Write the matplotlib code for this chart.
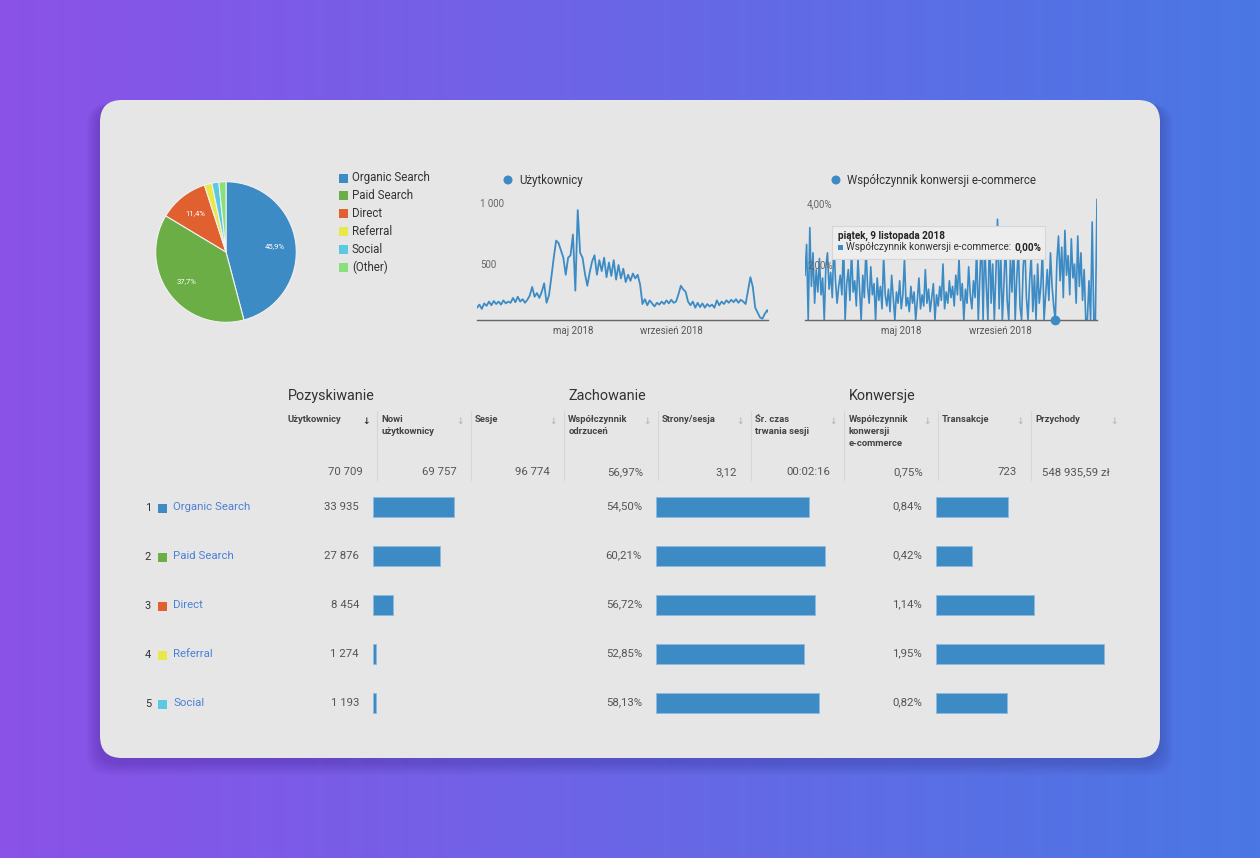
import datetime as dt
import numpy as np
import matplotlib
matplotlib.use("Agg")
import matplotlib.pyplot as plt
import matplotlib.dates as mdates
from matplotlib.colors import LinearSegmentedColormap
from matplotlib.patches import FancyBboxPatch, Rectangle, Circle

W, H = 1260, 858
plt.rcParams['font.family'] = ['Roboto', 'DejaVu Sans']

# pie: channel shares
pie_labels = ['Organic Search', 'Paid Search', 'Direct', 'Referral', 'Social', '(Other)']
pie_values = [33935, 27876, 8454, 1274, 1193, 1200]
pie_colors = ['#3c8bc4', '#6aae45', '#e0612f', '#e9e84a', '#5cc9e2', '#89e07b']

# daily users, sampled every 3 days from 2018-01-01
users_series = [150, 175, 140, 185, 165, 200, 170, 205, 180, 200, 175, 210, 185, 200, 190,
                230, 195, 240, 200, 220, 190, 215, 250, 320, 240, 270, 230, 280, 350, 190,
                250, 400, 560, 700, 680, 620, 560, 420, 560, 580, 750, 290, 950, 600, 560,
                430, 330, 440, 530, 580, 420, 540, 450, 560, 400, 520, 410, 540, 380, 500,
                390, 470, 360, 420, 370, 430, 390, 420, 340, 180, 220, 170, 210, 185, 160,
                190, 175, 200, 180, 210, 185, 215, 190, 200, 260, 330, 300, 280, 200, 170,
                200, 150, 190, 155, 185, 150, 180, 160, 175, 150, 210, 170, 200, 180, 210,
                190, 215, 195, 220, 190, 215, 200, 180, 290, 400, 320, 150, 110, 70, 60,
                100, 130, 95]

# e-commerce conversion rate (%), sampled every 2 days from 2018-01-01
conv_series = [1.6, 2.7, 0.0, 3.3, 1.2, 2.4, 0.6, 1.8, 1.0, 2.2, 0.9, 1.5, 0.0, 1.9, 2.4,
               1.1, 1.7, 0.8, 2.8, 1.4, 0.6, 1.2, 1.6,
               0.9, 2.9, 0.0, 1.3, 1.8, 0.7, 2.5, 1.0, 1.4, 0.5, 2.2, 1.1, 0.0, 1.6, 0.8,
               2.6, 1.2, 0.6, 1.9, 0.9, 1.3, 0.0, 1.5,
               0.7, 1.2, 0.4, 2.3, 0.9, 0.5, 1.1, 0.3, 1.6, 0.8, 0.0, 1.0, 0.6, 1.4, 0.4,
               0.9, 2.2, 0.5, 0.8, 0.3, 1.2, 0.6, 1.0, 0.0, 0.7, 1.5, 0.4, 0.9, 0.5, 1.8,
               0.6, 1.1, 0.3, 0.8, 1.3, 0.0, 0.9, 0.5, 1.2, 0.7, 2.0, 0.4, 1.0, 0.6, 1.4,
               0.8, 1.2, 0.5, 1.6, 0.9, 2.2, 0.7, 1.3, 0.0, 1.1, 0.6, 1.9, 0.9, 0.4, 1.4,
               0.8, 2.6, 0.0, 1.5, 3.1,
               0.0, 2.8, 1.2, 0.0, 3.3, 0.6, 2.0, 0.0, 1.7, 3.6, 0.4, 2.4, 0.0, 1.3, 2.9,
               0.7, 0.0, 2.2, 1.0, 3.0, 0.0, 1.5, 2.6, 0.5, 0.0, 1.9, 2.7, 0.8, 0.0, 1.4,
               2.3, 0.3, 1.6, 0.0, 2.0, 0.6, 1.2, 2.5, 0.0, 0.9,
               1.8, 0.7, 2.4, 1.2, 0.5, 0.0, 2.1, 3.0, 1.4, 2.6, 0.8, 3.2, 1.6, 2.3, 0.9,
               2.9, 1.5, 2.0, 0.6, 3.0, 1.2, 2.4, 0.7, 1.8, 0.0, 0.0, 1.4, 0.0, 3.5, 0.0,
               0.0, 4.3]

# table
section_titles = ['Pozyskiwanie', 'Zachowanie', 'Konwersje']
col_headers = ['Użytkownicy', 'Nowi\nużytkownicy', 'Sesje', 'Współczynnik\nodrzuceń',
               'Strony/sesja', 'Śr. czas\ntrwania sesji', 'Współczynnik\nkonwersji\ne-commerce',
               'Transakcje', 'Przychody']
col_totals = ['70 709', '69 757', '96 774', '56,97%', '3,12', '00:02:16', '0,75%',
              '723', '548 935,59 zł']
channels = ['Organic Search', 'Paid Search', 'Direct', 'Referral', 'Social']
users = [33935, 27876, 8454, 1274, 1193]
bounce = [54.50, 60.21, 56.72, 52.85, 58.13]
conv = [0.84, 0.42, 1.14, 1.95, 0.82]

BLUE = '#3c8bc4'
DARK = '#333333'
GREY = '#555555'


def px_axes(fig, x0, y0, x1, y1):
    return fig.add_axes([x0 / W, 1 - y1 / H, (x1 - x0) / W, (y1 - y0) / H])


def pl_int(v):
    return f"{v:,}".replace(',', ' ')


def pl_pct(v):
    return f"{v:.2f}%".replace('.', ',')


fig = plt.figure(figsize=(W / 100, H / 100), dpi=100)
bg = fig.add_axes([0, 0, 1, 1])
bg.set_xlim(0, W)
bg.set_ylim(H, 0)
bg.axis('off')

# gradient background
grad = np.linspace(0, 1, 256).reshape(1, -1)
cmap = LinearSegmentedColormap.from_list('bg', ['#8b52e8', '#6a66e6', '#4a77e4'])
bg.imshow(grad, cmap=cmap, extent=[0, W, H, 0], aspect='auto', zorder=0)

# card with soft shadow
r = 22
for k in range(10):
    grow = 2 + k * 2.2
    bg.add_patch(FancyBboxPatch((100 + r - grow * 0.6, 100 + r + 4), 1060 - 2 * r + grow * 1.2,
                                658 - 2 * r + grow * 0.6,
                                boxstyle=f"round,pad={r}", facecolor='#2a1a6a',
                                edgecolor='none', alpha=0.022, zorder=1))
bg.add_patch(FancyBboxPatch((100 + r, 100 + r), 1060 - 2 * r, 658 - 2 * r,
                            boxstyle=f"round,pad={r}", facecolor='#e6e6e6',
                            edgecolor='none', zorder=2))

# ---- pie ----
ax_pie = px_axes(fig, 155, 181, 297, 323)
wedges, _ = ax_pie.pie(pie_values, colors=pie_colors, startangle=90, counterclock=False,
                       radius=1, wedgeprops=dict(edgecolor='#f2f2f2', linewidth=0.8))
total = sum(pie_values)
ang = 90.0
for v in pie_values:
    frac = v / total
    mid = np.deg2rad(ang - frac * 180)
    ang -= frac * 360
    if frac > 0.05:
        ax_pie.text(0.7 * np.cos(mid), 0.7 * np.sin(mid), f"{frac * 100:.1f}%".replace('.', ','),
                    ha='center', va='center', color='white', fontsize=5.5)
ax_pie.set_xlim(-1.01, 1.01)
ax_pie.set_ylim(-1.01, 1.01)
ax_pie.set_aspect('equal')
ax_pie.axis('off')

for i, (lab, col) in enumerate(zip(pie_labels, pie_colors)):
    y = 178 + i * 17.8
    bg.add_patch(Rectangle((339, y - 4.5), 9, 9, facecolor=col, edgecolor='none', zorder=3))
    bg.text(352, y, lab, fontsize=8.3, color=DARK, va='center', ha='left', zorder=3)

# ---- users line chart ----
dates_u = [dt.date(2018, 1, 1) + dt.timedelta(days=3 * i) for i in range(len(users_series))]
ax_u = px_axes(fig, 477, 200, 768, 320)
ax_u.plot(dates_u, users_series, color=BLUE, lw=1.3, solid_joinstyle='round')
ax_u.set_xlim(dt.date(2018, 1, 1), dt.date(2018, 12, 31))
ax_u.set_ylim(49, 1033)
ax_u.set_facecolor('none')

# ---- conversion rate line chart ----
ax_c = px_axes(fig, 805, 195, 1097, 320)
dates_c = [dt.date(2018, 1, 1) + dt.timedelta(days=2 * i) for i in range(len(conv_series))]
ax_c.plot(dates_c, conv_series, color=BLUE, lw=1.2, solid_joinstyle='round')
ax_c.set_xlim(dt.date(2018, 1, 1), dt.date(2018, 12, 31))
ax_c.set_ylim(0, 125 / 28)
ax_c.set_facecolor('none')

for ax in (ax_u, ax_c):
    for s in ('top', 'right', 'left'):
        ax.spines[s].set_visible(False)
    ax.spines['bottom'].set_color('#666666')
    ax.spines['bottom'].set_linewidth(1.0)
    ax.set_yticks([])
    ax.set_xticks([mdates.date2num(dt.date(2018, 5, 1)), mdates.date2num(dt.date(2018, 9, 1))])
    ax.set_xticklabels(['maj 2018', 'wrzesień 2018'], fontsize=7, color='#555555')
    ax.tick_params(axis='x', length=0, pad=4)

# hovered point
ax_c.plot([mdates.date2num(dt.date(2018, 11, 9))], [0], 'o', color=BLUE, ms=6, clip_on=False,
          zorder=6)

# overlay layer for labels that sit on top of the lines
top = fig.add_axes([0, 0, 1, 1])
top.set_xlim(0, W)
top.set_ylim(H, 0)
top.axis('off')

for x, txt, y in [(480, '1 000', 204), (480, '500', 265), (807, '4,00%', 204), (807, '2,00%', 265)]:
    top.text(x, y, txt, fontsize=7, color='#666666', ha='left', va='center', zorder=5)

# legends of line charts
bg.add_patch(Circle((508, 180), 4.5, facecolor=BLUE, edgecolor='none', zorder=3))
bg.text(519, 180.5, 'Użytkownicy', fontsize=8.3, color=DARK, va='center', zorder=3)
bg.add_patch(Circle((836, 180), 4.5, facecolor=BLUE, edgecolor='none', zorder=3))
bg.text(847, 180.5, 'Współczynnik konwersji e-commerce', fontsize=8.3, color=DARK,
        va='center', zorder=3)

# tooltip
top.add_patch(Rectangle((832, 226), 213, 33, facecolor='#ededed', edgecolor='#d6d6d6',
                        lw=0.8, zorder=1))
top.text(838, 235.5, 'piątek, 9 listopada 2018', fontsize=7.1, fontweight='bold',
         color='#222222', va='center', zorder=2)
top.add_patch(Rectangle((838, 245), 4.5, 4.5, facecolor=BLUE, edgecolor='none', zorder=2))
tt = top.text(846, 247.5, 'Współczynnik konwersji e-commerce: ', fontsize=7.1,
              color='#333333', va='center', zorder=2)
fig.canvas.draw()
bb = tt.get_window_extent()
x_end = top.transData.inverted().transform((bb.x1, bb.y0))[0]
top.text(x_end + 1, 247.5, '0,00%', fontsize=7.1, fontweight='bold', color='#222222',
         va='center', zorder=2)

# ---- table ----
for x, t in zip([288, 568, 849], section_titles):
    bg.text(x, 396, t, fontsize=10.4, color=DARK, va='center', ha='left', zorder=3)

col_x = [288 + 93.4 * k for k in range(len(col_headers))]
for k, (x, hdr, tot) in enumerate(zip(col_x, col_headers, col_totals)):
    bg.text(x, 415, hdr, fontsize=6.8, fontweight='bold', color='#444444', va='top',
            ha='left', linespacing=1.4, zorder=3)
    bg.text(x + 78.5, 421, '↓', fontsize=6.5, fontweight='bold',
            color='#333333' if k == 0 else '#bbbbbb', ha='center', va='center', zorder=3)
    bg.text(x + 75, 472, tot, fontsize=8.2, color=GREY, ha='right', va='center', zorder=3)
    if k > 0:
        bg.plot([x - 4, x - 4], [411, 480], color='#d6d6d6', lw=0.8, zorder=3)

row_y = [507 + 49 * i for i in range(len(channels))]
for i, (name, y) in enumerate(zip(channels, row_y)):
    bg.text(148, y + 1, str(i + 1), fontsize=8, color=DARK, ha='center', va='center', zorder=3)
    bg.add_patch(Rectangle((158, y - 3), 8.5, 8.5, facecolor=pie_colors[i], edgecolor='none',
                           zorder=3))
    bg.text(173, y, name, fontsize=8.2, color='#4a80d6', ha='left', va='center', zorder=3)
    bg.text(359, y, pl_int(users[i]), fontsize=8.2, color=GREY, ha='right', va='center',
            zorder=3)
    bg.text(642, y - 1, pl_pct(bounce[i]), fontsize=8.2, color=GREY, ha='right', va='center',
            zorder=3)
    bg.text(922, y - 1, pl_pct(conv[i]), fontsize=8.2, color=GREY, ha='right', va='center',
            zorder=3)

bar_specs = [(373, 100, 81 / 33935, users), (656, 180, 2.8, bounce), (936, 180, 86.3, conv)]
for x0, wpx, scale, vals in bar_specs:
    ax_b = px_axes(fig, x0, 482.5, x0 + wpx, 727.5)
    ax_b.barh(range(len(vals)), vals, height=0.4, color=BLUE, edgecolor='#8bbbe0', lw=0.6)
    ax_b.set_xlim(0, wpx / scale)
    ax_b.set_ylim(len(vals) - 0.5, -0.5)
    ax_b.axis('off')

fig.savefig('out.png', dpi=100)
